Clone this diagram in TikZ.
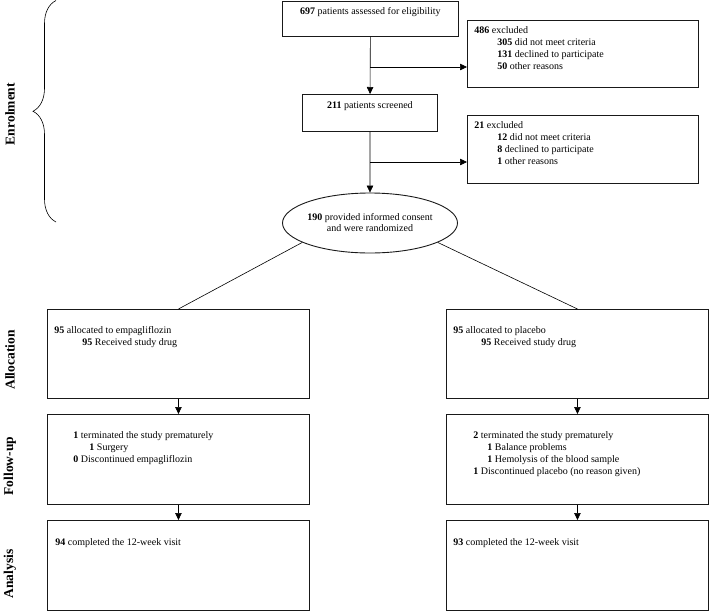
\documentclass[tikz,border=0pt]{standalone}
\usepackage{fontspec}
\setmainfont{Liberation Serif}
\usetikzlibrary{arrows.meta,shapes.geometric,decorations.pathreplacing}

\newlength{\du}
\setlength{\du}{1pt}

% width, height, top gap, left gap, text
\newcommand{\cellbox}[5]{\parbox[c][#2\du][t]{#1\du}{\raggedright\leftskip=#4\du\parindent=0pt\vspace*{#3\du}#5}}

\tikzset{
  flowbox/.style={draw=black!90, line width=0.9pt, anchor=north west, inner sep=0pt,
    font=\fontsize{10}{12}\selectfont},
  flowarrow/.style={line width=0.6pt, -{Triangle[length=7pt,width=6.5pt]}},
  flowline/.style={line width=0.6pt},
  phase/.style={rotate=90, font=\fontsize{13.5}{14}\selectfont\bfseries}
}

\begin{document}
\begin{tikzpicture}[x=\du,y=-\du]
\useasboundingbox (0,0) rectangle (709,611);

\node[flowbox] (assess) at (282,0.5) {\cellbox{176}{35.5}{7}{0}{\centering\textbf{697} patients assessed for eligibility}};
\node[flowbox] (excl1) at (467,20) {\cellbox{231}{67}{6.5}{7}{\textbf{486} excluded\\
  \hspace*{23\du}\textbf{305} did not meet criteria\\
  \hspace*{23\du}\textbf{131} declined to participate\\
  \hspace*{23\du}\textbf{50} other reasons}};
\node[flowbox] (screen) at (302,94) {\cellbox{135}{37}{7.5}{0}{\centering\textbf{211} patients screened}};
\node[flowbox] (excl2) at (467,115) {\cellbox{231}{68}{6.5}{7}{\textbf{21} excluded\\
  \hspace*{23\du}\textbf{12} did not meet criteria\\
  \hspace*{23\du}\textbf{8} declined to participate\\
  \hspace*{23\du}\textbf{1} other reasons}};
\node[ellipse, draw=black!90, line width=0.9pt, inner sep=0pt, minimum width=175\du, minimum height=60\du,
  font=\fontsize{10}{11}\selectfont] (rand) at (370,223)
  {\parbox{110\du}{\centering\makebox[0pt]{\textbf{190} provided informed consent}\\ and were randomized}};

\node[flowbox] (allocL) at (47,309) {\cellbox{262}{89}{17.5}{7}{\textbf{95} allocated to empagliflozin\\
  \hspace*{28\du}\textbf{95} Received study drug}};
\node[flowbox] (allocR) at (446,309) {\cellbox{262}{89}{17.5}{7}{\textbf{95} allocated to placebo\\
  \hspace*{28\du}\textbf{95} Received study drug}};

\node[flowbox] (followL) at (47,414) {\cellbox{262}{90}{17.5}{26}{\textbf{1} terminated the study prematurely\\
  \hspace*{16\du}\textbf{1} Surgery\\
  \textbf{0} Discontinued empagliflozin}};
\node[flowbox] (followR) at (446,414) {\cellbox{262}{90}{17.5}{27}{\textbf{2} terminated the study prematurely\\
  \hspace*{14\du}\textbf{1} Balance problems\\
  \hspace*{14\du}\textbf{1} Hemolysis of the blood sample\\
  \textbf{1} Discontinued placebo (no reason given)}};

\node[flowbox] (anaL) at (47,520) {\cellbox{262}{89.5}{18.5}{8}{\textbf{94} completed the 12-week visit}};
\node[flowbox] (anaR) at (446,520) {\cellbox{262}{89.5}{18.5}{7}{\textbf{93} completed the 12-week visit}};

\node[phase] (lEnrol) at (10,114) {Enrolment};
\node[phase] (lAlloc) at (10,360) {Allocation};
\node[phase] (lFollow) at (10,466) {Follow-up};
\node[phase] (lAnaly) at (10,574) {Analysis};

\draw[flowline, decorate, decoration={brace, amplitude=23\du}] (56,222) -- (56,0.5);

\coordinate (br1) at (370,67);
\coordinate (br2) at (370,162);
\draw[flowarrow] (assess) -- (screen);
\draw[flowarrow] (br1) -- (br1 -| excl1.west);
\draw[flowarrow] (screen) -- (rand);
\draw[flowarrow] (br2) -- (br2 -| excl2.west);
\draw[flowline] (rand.196) -- (allocL.north);
\draw[flowline] (rand.344) -- (allocR.north);
\draw[flowarrow] (allocL) -- (followL);
\draw[flowarrow] (followL) -- (anaL);
\draw[flowarrow] (allocR) -- (followR);
\draw[flowarrow] (followR) -- (anaR);
\end{tikzpicture}
\end{document}
